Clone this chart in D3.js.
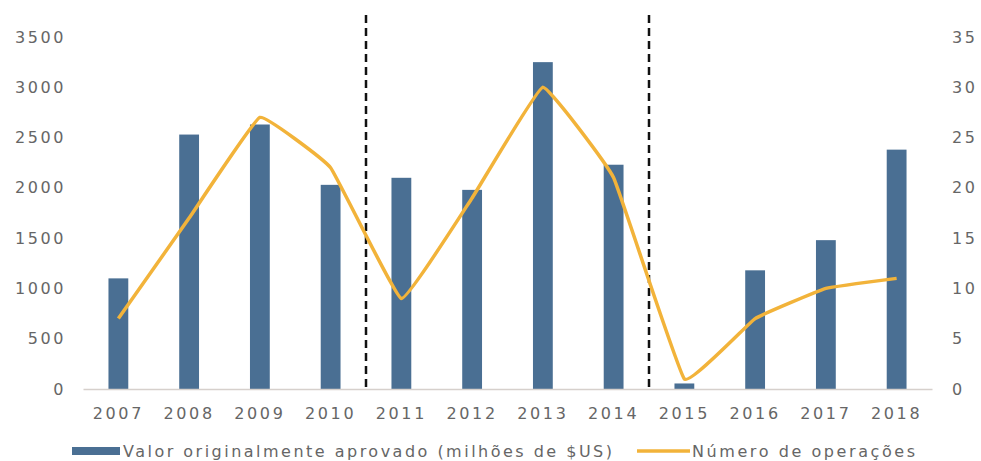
<!DOCTYPE html>
<html>
<head>
<meta charset="utf-8">
<script src="https://cdn.jsdelivr.net/npm/d3@7"></script>
<style>
  body { margin: 0; background: #fff; }
  text { font-family: "DejaVu Sans", sans-serif; fill: #666; }
</style>
</head>
<body>
<div id="chart"></div>
<script>
// data
var years = ["2007","2008","2009","2010","2011","2012","2013","2014","2015","2016","2017","2018"];
var valor = [1100, 2530, 2630, 2030, 2100, 1980, 3250, 2230, 55, 1180, 1480, 2380];
var operacoes = [7, 17, 27, 22, 9, 19, 30, 21, 1, 7, 10, 11];
var leftTicks = [0, 500, 1000, 1500, 2000, 2500, 3000, 3500];
var rightTicks = [0, 5, 10, 15, 20, 25, 30, 35];
var splitAfter = ["2010", "2014"]; // dashed separators after these years
var legendLabels = ["Valor originalmente aprovado (milhões de $US)", "Número de operações"];

var margin = {top: 37, right: 49, bottom: 72, left: 83};
var W = 981, H = 461;
var width = W - margin.left - margin.right,
    height = H - margin.top - margin.bottom;

var svg = d3.select("#chart").append("svg")
  .attr("width", W).attr("height", H);

var g = svg.append("g")
  .attr("transform", "translate(" + margin.left + "," + margin.top + ")");

var x = d3.scaleBand().domain(years).range([0, width]).paddingInner(0.72).paddingOuter(0.36);
var yL = d3.scaleLinear().domain([0, 3500]).range([height, 0]);
var yR = d3.scaleLinear().domain([0, 35]).range([height, 0]);

// axes (labels only)
var leftAxis = d3.axisLeft(yL).tickValues(leftTicks).tickFormat(d3.format("d")).tickSize(0).tickPadding(17);
var rightAxis = d3.axisRight(yR).tickValues(rightTicks).tickSize(0).tickPadding(20);
var bottomAxis = d3.axisBottom(x).tickSize(0).tickPadding(19);

var la = g.append("g").call(leftAxis);
la.select(".domain").remove();
var ra = g.append("g").attr("transform", "translate(" + width + ",0)").call(rightAxis);
ra.select(".domain").remove();
g.selectAll(".tick text").style("font-size", "16px").style("letter-spacing", "2.6px").attr("fill", "#666");

// bars
g.selectAll(".bar").data(years).enter().append("rect")
  .attr("class", "bar")
  .attr("x", function(d) { return x(d); })
  .attr("width", x.bandwidth())
  .attr("y", function(d, i) { return yL(valor[i]); })
  .attr("height", function(d, i) { return height - yL(valor[i]); })
  .attr("fill", "#4a6f93");

// baseline
var xa = g.append("g").attr("transform", "translate(0," + height + ")").call(bottomAxis);
xa.select(".domain").attr("stroke", "#d6d0cc").attr("stroke-width", 1.5);
xa.selectAll("text").style("font-size", "16px").style("letter-spacing", "2.6px").attr("fill", "#666");

// dashed separators
var step = x.step();
splitAfter.forEach(function(yr) {
  var xs = x(yr) + x.bandwidth() + (step - x.bandwidth()) / 2;
  g.append("line")
    .attr("x1", xs).attr("x2", xs)
    .attr("y1", -22).attr("y2", height)
    .attr("stroke", "#111").attr("stroke-width", 2.5)
    .attr("stroke-dasharray", "8,5");
});

// line
var line = d3.line()
  .x(function(d, i) { return x(years[i]) + x.bandwidth() / 2; })
  .y(function(d) { return yR(d); })
  .curve(d3.curveCardinal.tension(0.75));

g.append("path").datum(operacoes)
  .attr("d", line)
  .attr("fill", "none")
  .attr("stroke", "#f2b33a")
  .attr("stroke-width", 3.5)
  .attr("stroke-linejoin", "round");

// legend
var lg = svg.append("g").attr("transform", "translate(0,451)");
lg.append("rect").attr("x", 72).attr("y", -4).attr("width", 48).attr("height", 8).attr("fill", "#4a6f93");
lg.append("text").attr("x", 123).attr("y", 6).style("font-size", "16px")
  .attr("textLength", 489).attr("lengthAdjust", "spacing").text(legendLabels[0]);
lg.append("line").attr("x1", 637).attr("x2", 690).attr("y1", 0).attr("y2", 0)
  .attr("stroke", "#f2b33a").attr("stroke-width", 3.5);
lg.append("text").attr("x", 692).attr("y", 6).style("font-size", "16px")
  .attr("textLength", 223).attr("lengthAdjust", "spacing").text(legendLabels[1]);
</script>
</body>
</html>
